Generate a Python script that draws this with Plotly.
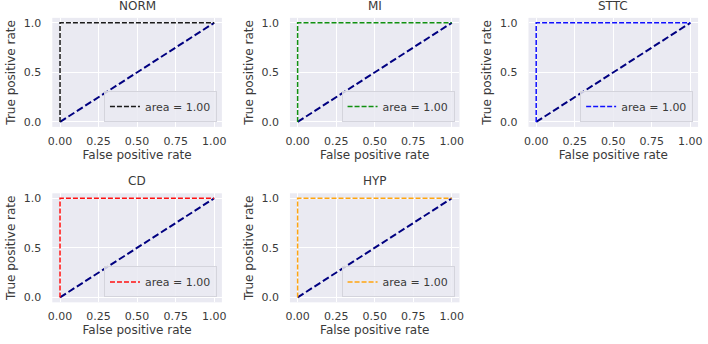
import plotly.graph_objects as go

classes = ["NORM", "MI", "STTC", "CD", "HYP"]
colors = ["#1a1a1a", "#109010", "#1010ff", "#ff1010", "#ffa510"]
fpr = [[0.0, 0.0, 1.0]] * 5
tpr = [[0.0, 1.0, 1.0]] * 5
auc = [1.00, 1.00, 1.00, 1.00, 1.00]
diag_x = [0.0, 1.0]
diag_y = [0.0, 1.0]
xticks = [0.0, 0.25, 0.5, 0.75, 1.0]
xticklabels = ["0.00", "0.25", "0.50", "0.75", "1.00"]
yticks = [0.0, 0.5, 1.0]
yticklabels = ["0.0", "0.5", "1.0"]

W, H = 708, 344
col_px = [(48, 220), (289, 461), (531, 703)]
row_px = [(17, 127), (194, 304)]
positions = [(0, 0), (0, 1), (0, 2), (1, 0), (1, 1)]

FONT = "DejaVu Sans"
TXT = "#3a3a3a"
BG = "#EAEAF2"

fig = go.Figure()
layout = dict(
    width=W, height=H,
    margin=dict(l=0, r=0, t=0, b=0),
    paper_bgcolor="white",
    font=dict(family=FONT, color=TXT, size=11),
    annotations=[],
)

for i, name in enumerate(classes):
    r, c = positions[i]
    x0, x1 = col_px[c]
    y0, y1 = row_px[r]
    xd = [x0 / W, x1 / W]
    yd = [1 - y1 / H, 1 - y0 / H]
    ax = "" if i == 0 else str(i + 1)
    lg = "legend" if i == 0 else f"legend{i + 1}"
    fig.add_trace(go.Scatter(
        x=diag_x, y=diag_y, mode="lines",
        line=dict(color="navy", width=2, dash="7px,3px"),
        xaxis="x" + ax, yaxis="y" + ax, showlegend=False, hoverinfo="skip"))
    fig.add_trace(go.Scatter(
        x=fpr[i], y=tpr[i], mode="lines",
        line=dict(color=colors[i], width=1.5, dash="5px,2px"),
        name=f"area = {auc[i]:.2f}",
        xaxis="x" + ax, yaxis="y" + ax, legend=lg))
    layout["xaxis" + ax] = dict(
        domain=xd, anchor="y" + ax, range=[-0.05, 1.05],
        tickvals=xticks, ticktext=xticklabels,
        showgrid=True, gridcolor="white", gridwidth=1,
        zeroline=False, showline=False, ticks="",
        ticklabelstandoff=6,
        tickfont=dict(size=11, color=TXT),
        title=dict(text="False positive rate", font=dict(size=12, color=TXT), standoff=3),
    )
    layout["yaxis" + ax] = dict(
        domain=yd, anchor="x" + ax, range=[-0.05, 1.05],
        tickvals=yticks, ticktext=yticklabels,
        showgrid=True, gridcolor="white", gridwidth=1,
        zeroline=False, showline=False, ticks="",
        ticklabelstandoff=10,
        tickfont=dict(size=11, color=TXT),
        title=dict(text="True positive rate", font=dict(size=12, color=TXT), standoff=5),
    )
    layout["annotations"].append(dict(
        text=name, x=(xd[0] + xd[1]) / 2, y=yd[1] + 3 / H,
        xref="paper", yref="paper", xanchor="center", yanchor="bottom",
        showarrow=False, font=dict(size=12, color=TXT)))
    layout[lg] = dict(
        x=(x1 - 5) / W, y=1 - (y1 - 5) / H, xanchor="right", yanchor="bottom",
        bgcolor="rgba(234,234,242,0.85)", bordercolor="#d4d4dc", borderwidth=1,
        font=dict(size=11, color=TXT), itemwidth=30,
        tracegroupgap=0, traceorder="normal",
    )

layout["plot_bgcolor"] = BG
fig.update_layout(**layout)
fig.write_html("out.html")
